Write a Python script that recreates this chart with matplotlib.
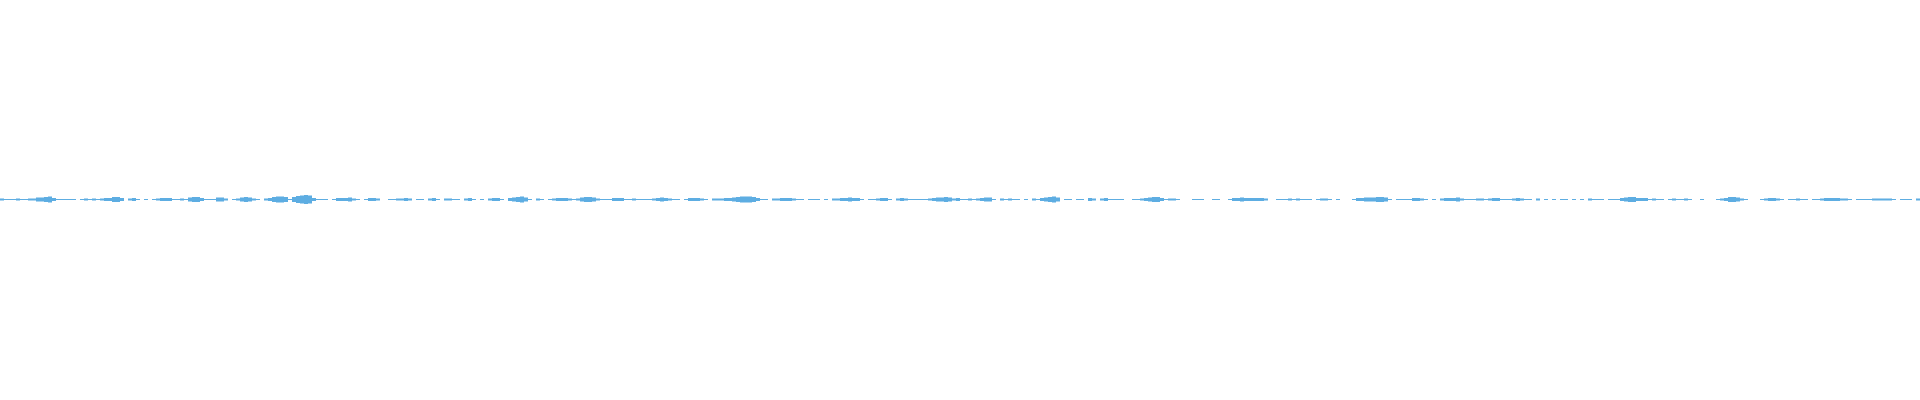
import numpy as np
import matplotlib
matplotlib.use("Agg")
import matplotlib.pyplot as plt

# Waveform envelope (half-amplitude in pixel units), one value per 4-pixel column bin
seg1 = [1,.5,.5,.5,1,.5,.5,1,1,2, 2,2.5,3,1.5,.5,.5,.5,.5,.5,0, .5,1,.5,1,.5,1,1.5,1.5,2.5,2.5,
        1.5,0,1,1.5,.5,0,.5,0,.5,1, 1.5,1.5,1.5,.5,.5,1,.5,2,2.5,2.5, 1.5,.5,.5,.5,2,2,1,0,.5,1,
        2,2.5,2,1,.5,0,1,1.5,2.5,3, 3,2.5,.5,2.5,3.5,4,4.5,4,1.5,.5]
seg2 = [.5,.5,0,.5,1.5,1.5,1.5,2,1,.5, 0,.5,1.5,1.5,1,0,0,.5,.5,1, 1,1.5,1,0,.5,.5,0,1,1.5,.5,
        0,1,1,.5,.5,0,1,1.5,.5,0, .5,0,1,1.5,1.5,.5,0,1.5,2,2.5, 3,2,.5,0,1,.5,0,.5,1,1.5,
        1.5,1.5,1,.5,1,2,2.5,2.5,2,1, .5,.5,.5,1.5,1.5,1.5,.5,.5,1,.5]
seg3 = [.5,.5,.5,1,1.5,2,1.5,1,.5,.5, 0,.5,1.5,1.5,1.5,1,.5,0,1,1, 1,1.5,1.5,2,2.5,3,3,3,2.5,1.5,
        .5,.5,0,1,1,1.5,1.5,1.5,1,.5, .5,0,.5,.5,.5,0,.5,0,1,1, 1.5,1.5,2,1.5,1.5,.5,0,.5,.5,1,
        1.5,1.5,.5,0,1,1.5,1,.5,.5,.5, .5,.5,1,1.5,2,2,2.5,2,1,1.5]
seg4 = [.5,.5,1,.5,1,1.5,2,2,.5,0, 1,.5,1,.5,.5,0,.5,0,1,.5, 1.5,2,2.5,3,2,0,.5,.5,0,.5,
        .5,0,1.5,1,0,1,1.5,.5,.5,.5, .5,0,0,.5,.5,1,1.5,2,2.5,2.5, 1.5,.5,1,1,.5,0,0,0,.5,.5,
        .5,0,0,.5,.5,0,0,.5,1.5,1.5, 2,1.5,1.5,1.5,1.5,1.5,1,0,0,.5]
seg5 = [.5,.5,1,.5,1,.5,.5,.5,0,.5, 1,1,.5,0,.5,0,0,0,.5,1.5, 1.5,2,2,2,2.5,2.5,2,.5,0,.5,
        .5,.5,.5,1.5,1.5,1,.5,0,.5,0, 1,1.5,1.5,1.5,2,1,.5,.5,.5,1, 1,.5,1,1.5,1.5,.5,.5,.5,1,1.5,
        1,.5,.5,0,1,0,.5,0,.5,0, .5,.5,0,.5,0,.5,0,1,.5,.5]
seg6 = [.5,0,.5,.5,.5,1.5,2,2.5,2.5,1.5, 1.5,1.5,.5,1,.5,.5,0,.5,1,.5, .5,1,.5,0,0,.5,0,0,0,.5,
        1,1.5,2.5,2.5,2,1,.5,0,0,0, .5,1,1.5,1.5,1,.5,0,.5,.5,1, .5,.5,0,.5,.5,1,1.5,1.5,1.5,1.5,
        1,1,.5,0,.5,.5,.5,.5,1,1, 1,1,1,.5,0,.5,.5,.5,0,1]

amplitude = np.array(seg1 + seg2 + seg3 + seg4 + seg5 + seg6, dtype=float)
BIN = 4
x = np.arange(len(amplitude)) * BIN

W, H = 1920, 400
fig = plt.figure(figsize=(W / 100, H / 100), dpi=100)
ax = fig.add_axes([0, 0, 1, 1])
ax.set_xlim(0, W)
ax.set_ylim(-200.5, 199.5)
ax.axis("off")
fig.patch.set_facecolor("white")

mask = amplitude > 0
bars = ax.bar(x[mask], 2 * amplitude[mask], bottom=-amplitude[mask], width=BIN,
              align="edge", color="#5DADE2", linewidth=0)
for b in bars:
    b.set_snap(False)

fig.savefig("out.png", dpi=100, facecolor="white")
